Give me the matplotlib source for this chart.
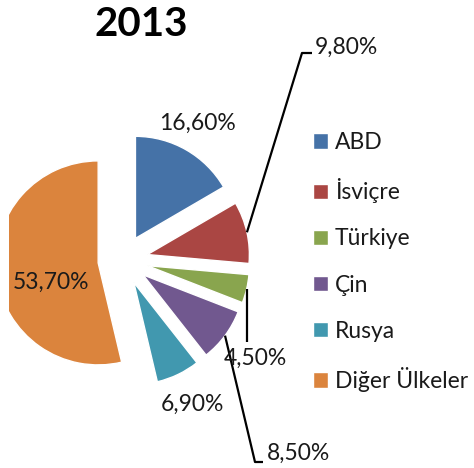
import numpy as np
import matplotlib
matplotlib.use("Agg")
import matplotlib.pyplot as plt

plt.rcParams['font.family'] = ['Lato', 'DejaVu Sans']

# data
countries = ["ABD", "İsviçre", "Türkiye", "Çin", "Rusya", "Diğer Ülkeler"]
shares = [16.6, 9.8, 4.5, 8.5, 6.9, 53.7]
colors = ["#4572A7", "#AA4643", "#89A54E", "#71588F", "#4198AF", "#DB843D"]
title = "2013"

W, H = 474, 468
explode_r = 0.25

fig = plt.figure(figsize=(W / 100, H / 100), dpi=100)
# 100 px per data unit, pie centre at pixel (123, 260)
left_px = 9
ax = fig.add_axes([left_px / W, 0, 1 - left_px / W, 1])

wedges, _ = ax.pie(shares, colors=colors, startangle=90, counterclock=False,
                   explode=[explode_r] * len(shares), radius=1.02,
                   wedgeprops=dict(edgecolor="white", linewidth=1))
for w in wedges:
    w.set_clip_on(True)
ax.set_aspect("auto")
ax.set_xlim((left_px - 123) / 100, (W - 123) / 100)
ax.set_ylim(-(H - 260) / 100, 260 / 100)
ax.axis("off")

def labtxt(v):
    return f"{v:.2f}".replace(".", ",") + "%"

def mid(w):
    a = np.deg2rad((w.theta1 + w.theta2) / 2)
    return a, w.center

fs = 16.5
tc = "#1a1a1a"

# labels placed near wedge direction (radius, angle tweak in degrees)
for i, rr, dth in [(0, 1.31, 1.5), (5, 0.51, 16), (4, 1.35, 0)]:
    a, c = mid(wedges[i])
    a = a + np.deg2rad(dth)
    ax.text(c[0] + rr * np.cos(a), c[1] + rr * np.sin(a), labtxt(shares[i]),
            ha="center", va="center", fontsize=fs, color=tc)

# labels with leader lines (elbow / text positions are layout)
leaders = {
    1: [(1.79, 2.07), (1.89, 2.07)],
    2: [(None, -0.82)],
    3: [(1.32, -2.02), (1.40, -2.02)],
}
for i, pts in leaders.items():
    a, c = mid(wedges[i])
    x0 = c[0] + wedges[i].r * np.cos(a)
    y0 = c[1] + wedges[i].r * np.sin(a)
    xs, ys = [x0], [y0]
    for px, py in pts:
        xs.append(x0 if px is None else px)
        ys.append(py)
    ax.plot(xs, ys, color="black", lw=1.6, solid_capstyle="butt")

ax.text(1.92, 2.13, labtxt(shares[1]), ha="left", va="center", fontsize=fs, color=tc)
ax.text(1.32, -0.98, labtxt(shares[2]), ha="center", va="center", fontsize=fs, color=tc)
ax.text(1.44, -1.93, labtxt(shares[3]), ha="left", va="center", fontsize=fs, color=tc)

fig.text(141 / W, 1 - 25 / H, title, ha="center", va="center",
         fontsize=29, fontweight="bold")

leg = fig.legend(wedges, countries, loc="upper left",
                 bbox_to_anchor=(313 / W, 1 - 132 / H), bbox_transform=fig.transFigure,
                 frameon=False, fontsize=fs, borderpad=0, borderaxespad=0,
                 handlelength=0.65, handleheight=0.65, handletextpad=0.3,
                 labelspacing=1.1)
for t in leg.get_texts():
    t.set_color(tc)

fig.savefig("out.png", dpi=100)
